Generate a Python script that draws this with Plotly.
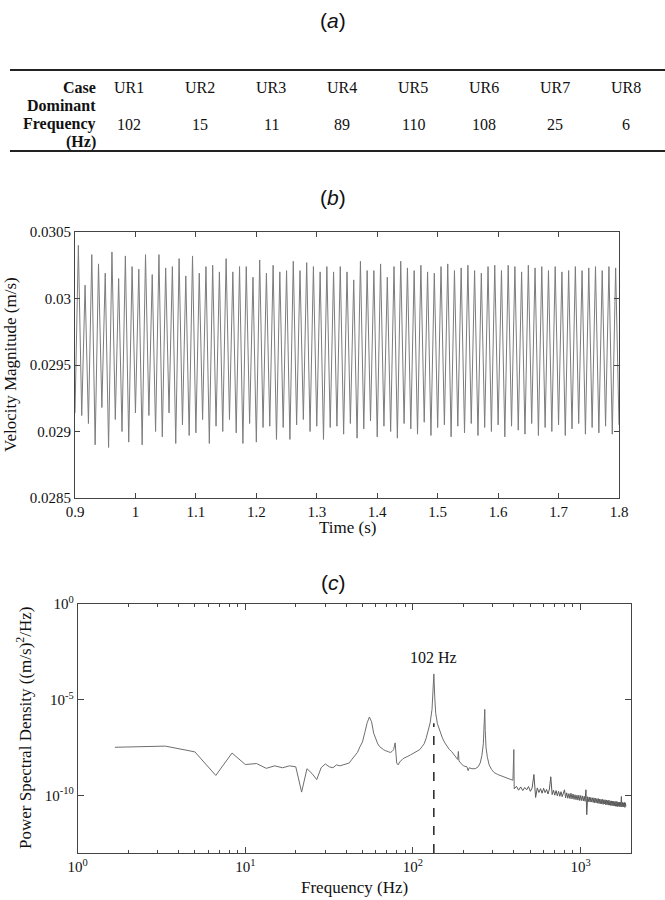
import numpy as np
import plotly.graph_objects as go

# ---- (a) table ----
cases = ["UR1", "UR2", "UR3", "UR4", "UR5", "UR6", "UR7", "UR8"]
dominant_freq = [102, 15, 11, 89, 110, 108, 25, 6]

# ---- (b) velocity magnitude: successive troughs / peaks of the oscillation ----
t_start = 0.9
t_end = 1.8
troughs = [
    0.02914, 0.02912, 0.02906, 0.02890, 0.02918, 0.02888, 0.02909, 0.02900, 0.02892, 0.02914,
    0.02890, 0.02912, 0.02900, 0.02896, 0.02914, 0.02891, 0.02905, 0.02897, 0.02899, 0.02909,
    0.02891, 0.02904, 0.02900, 0.02909, 0.02899, 0.02891, 0.02906, 0.02892, 0.02903, 0.02904,
    0.02894, 0.02903, 0.02894, 0.02905, 0.02909, 0.02900, 0.02904, 0.02894, 0.02903, 0.02904,
    0.02898, 0.02906, 0.02895, 0.02902, 0.02908, 0.02896, 0.02904, 0.02900, 0.02895, 0.02906,
    0.02902, 0.02898, 0.02907, 0.02897, 0.02903, 0.02905, 0.02896, 0.02904, 0.02899, 0.02906,
    0.02897, 0.02903, 0.02900, 0.02905, 0.02896, 0.02904, 0.02901, 0.02898, 0.02906, 0.02897,
    0.02903, 0.02900, 0.02905, 0.02897, 0.02902, 0.02906, 0.02898, 0.02903, 0.02899, 0.02904,
    0.02898, 0.02905,
]
peaks = [
    0.03040, 0.03010, 0.03033, 0.03026, 0.03019, 0.03035, 0.03015, 0.03032, 0.03024, 0.03022,
    0.03033, 0.03018, 0.03033, 0.03023, 0.03024, 0.03030, 0.03017, 0.03032, 0.03019, 0.03024,
    0.03025, 0.03020, 0.03030, 0.03020, 0.03024, 0.03024, 0.03016, 0.03029, 0.03019, 0.03025,
    0.03020, 0.03021, 0.03028, 0.03021, 0.03027, 0.03024, 0.03020, 0.03024, 0.03020,
    0.03024, 0.03020, 0.03014, 0.03028, 0.03021, 0.03021, 0.03026, 0.03016, 0.03024, 0.03028,
    0.03023, 0.03021, 0.03025, 0.03020, 0.03019, 0.03024, 0.03026, 0.03021, 0.03023, 0.03025,
    0.03021, 0.03019, 0.03024, 0.03025, 0.03021, 0.03025, 0.03024, 0.03020, 0.03025, 0.03023,
    0.03024, 0.03021, 0.03024, 0.03020, 0.03021, 0.03024, 0.03021, 0.03023, 0.03024, 0.03021,
    0.03024, 0.03023,
]

# ---- (c) power spectral density (exponents of 10) ----
psd_freq = [
    1.667, 3.333, 5.0, 6.667, 8.333, 10.0, 11.67, 13.33, 15.0, 16.67, 18.33, 20.0, 21.67, 23.33,
    25.0, 26.67, 28.33, 30.0, 31.67, 33.33, 35.0, 36.67, 38.33, 40.0, 41.67, 43.33, 45.0, 46.67,
    48.33, 50.0, 51.67, 53.33, 55.0, 56.67, 58.33, 60.0, 61.67, 63.33, 65.0, 66.67, 68.33, 70.0,
    71.67, 73.33, 75.0, 76.67, 78.33, 80.0, 81.67, 83.33, 85.0, 86.67, 88.33, 90.0, 93.33, 96.67,
    100, 103.3, 106.7, 110, 113.3, 116.7, 120, 123.3, 126.7, 130, 131.7, 133.3, 135, 136.7, 140,
    143.3, 146.7, 150, 155, 160, 165, 170, 175, 180, 185, 186.7, 188.3, 195, 200, 210, 213.3,
    216.7, 225, 235, 245, 252, 258, 263, 266.7, 268.3, 270, 273, 278, 285, 295, 305, 320, 340,
    360, 380, 395, 400, 402,
]
psd_exp = [
    -7.48, -7.42, -7.72, -8.95, -7.78, -8.38, -8.33, -8.58, -8.45, -8.55, -8.45, -8.50, -9.82, -8.60,
    -8.85, -9.17, -8.55, -8.35, -8.50, -8.55, -8.40, -8.45, -8.40, -8.33, -8.30, -8.10, -7.95, -7.75,
    -7.45, -7.20, -6.70, -6.20, -5.90, -6.15, -6.75, -7.05, -7.30, -7.45, -7.55, -7.60, -7.65, -7.70,
    -7.72, -7.75, -7.70, -7.60, -7.25, -8.30, -8.40, -8.25, -8.15, -8.10, -8.05, -8.00, -7.95, -7.88,
    -7.80, -7.75, -7.68, -7.60, -7.45, -7.30, -7.00, -6.60, -6.20, -5.50, -4.70, -3.65, -4.90, -5.70, -6.25,
    -6.55, -6.80, -7.00, -7.25, -7.45, -7.60, -7.70, -7.85, -8.00, -8.12, -7.70, -8.20, -8.35, -8.45, -8.50, -8.70,
    -8.55, -8.60, -8.60, -8.50, -8.30, -7.90, -7.30, -6.20, -5.50, -6.60, -7.50, -8.00, -8.40, -8.65, -8.80, -8.90, -9.00,
    -9.08, -9.15, -9.20, -7.60, -9.65,
]
# dense high-frequency part, evenly spaced from 402 Hz every 12.5 Hz
band_f0 = 402
band_df = 12.5
band_exp = [
    -9.65, -9.52, -9.72, -9.55, -9.74, -9.58, -9.70, -9.53, -9.78, -9.60,
    -8.90, -10.10, -9.60, -9.84, -9.64, -9.88, -9.62, -9.85, -9.68, -9.92,
    -9.66, -9.02, -9.95, -9.72, -9.98, -9.74, -10.02, -9.78, -10.04, -9.80,
    -10.06, -9.82, -9.70, -10.12, -9.86, -10.14, -9.90, -10.16, -9.88, -10.18,
    -9.92, -10.20, -9.96, -10.22, -9.98, -10.24, -9.98, -10.26, -10.00, -10.26,
    -10.02, -10.28, -10.04, -10.30, -9.70, -11.00, -10.06, -10.32, -10.08, -10.34,
    -10.10, -10.34, -10.12, -10.36, -10.12, -10.38, -10.14, -10.38, -10.16, -10.40,
    -10.16, -10.42, -10.18, -10.42, -10.20, -10.44, -10.20, -10.46, -10.22, -10.44,
    -10.22, -10.48, -10.24, -10.48, -10.26, -10.50, -10.24, -10.50, -10.28, -10.52,
    -10.28, -10.52, -10.30, -10.54, -10.30, -10.54, -10.32, -10.56, -10.30, -10.56,
    -10.32, -10.58, -10.34, -10.56, -10.34, -10.58, -10.36, -10.58, -10.05, -10.60,
    -10.36, -10.58, -10.38, -10.60, -10.36, -10.62, -10.38, -10.56,
]
dash_top = 6.0e-7
psd_ymin_exp = -13
psd_xmax = 2000

W, H = 665, 900
serif = "Liberation Serif"
sans = "Liberation Sans"
axis_col = "#444444"


def fx(p):
    return p / W


def fy(p):
    return 1 - p / H


# interleave troughs and peaks into one waveform
wave = []
for i in range(len(troughs)):
    wave.append(troughs[i])
    if i < len(peaks):
        wave.append(peaks[i])
wave_dt = (t_end - t_start) / (len(wave) - 1)

psd = [10 ** e for e in psd_exp]
band = [10 ** e for e in band_exp]
ipk = int(np.argmax(psd))
peak_f = psd_freq[ipk]

fig = go.Figure()

fig.add_trace(go.Scatter(
    y=wave, x0=t_start, dx=wave_dt, mode="lines",
    line=dict(color="#7c7c7c", width=1), xaxis="x", yaxis="y", showlegend=False))

fig.add_trace(go.Scatter(
    x=[peak_f, peak_f], y=[10 ** psd_ymin_exp, dash_top], mode="lines",
    line=dict(color="black", width=1.3, dash="dash"), xaxis="x2", yaxis="y2", showlegend=False))
fig.add_trace(go.Scatter(
    x=psd_freq, y=psd, mode="lines",
    line=dict(color="#6e6e6e", width=1), xaxis="x2", yaxis="y2", showlegend=False))
fig.add_trace(go.Scatter(
    y=band, x0=band_f0, dx=band_df, mode="lines",
    line=dict(color="#5a5a5a", width=1), xaxis="x2", yaxis="y2", showlegend=False))

common = dict(showline=True, linecolor=axis_col, linewidth=1, mirror="allticks", ticks="inside",
              tickcolor=axis_col, showgrid=False, zeroline=False, automargin=False,
              tickfont=dict(family=serif, size=15, color="#111"))

minor_x = [m * 10 ** d for d in range(0, 4) for m in range(2, 10) if m * 10 ** d < psd_xmax]

fig.update_layout(
    width=W, height=H, margin=dict(l=0, r=0, t=0, b=0),
    paper_bgcolor="white", plot_bgcolor="white",
    xaxis=dict(domain=[fx(75), fx(619)], range=[t_start, t_end], anchor="y",
               tickvals=[0.9, 1.0, 1.1, 1.2, 1.3, 1.4, 1.5, 1.6, 1.7, 1.8],
               ticktext=["0.9", "1", "1.1", "1.2", "1.3", "1.4", "1.5", "1.6", "1.7", "1.8"],
               ticklen=5, **common),
    yaxis=dict(domain=[fy(498), fy(232)], range=[0.0285, 0.0305], anchor="x",
               tickvals=[0.0285, 0.029, 0.0295, 0.03, 0.0305],
               ticktext=["0.0285", "0.029", "0.0295", "0.03", "0.0305"],
               ticklen=5, **common),
    xaxis2=dict(domain=[fx(77.7), fx(631)], type="log", range=[0, np.log10(psd_xmax)], anchor="y2",
                tickvals=[1, 10, 100, 1000],
                ticktext=["10<sup>0</sup>", "10<sup>1</sup>", "10<sup>2</sup>", "10<sup>3</sup>"],
                ticklen=6, minor=dict(tickvals=minor_x, ticks="inside", ticklen=3, tickcolor=axis_col),
                **common),
    yaxis2=dict(domain=[fy(853), fy(604)], type="log", range=[psd_ymin_exp, 0], anchor="x2",
                tickvals=[1, 1e-5, 1e-10],
                ticktext=["10<sup>0</sup>", "10<sup>-5</sup>", "10<sup>-10</sup>"],
                ticklen=6, **common),
)

ann = []


def text(x, y, s, size=16, family=serif, xanchor="center", color="#111", angle=0):
    ann.append(dict(x=fx(x), y=fy(y), xref="paper", yref="paper", text=s, showarrow=False,
                    textangle=angle, xanchor=xanchor, yanchor="middle",
                    font=dict(family=family, size=size, color=color)))


# panel labels
text(333, 20, "(<i>a</i>)", size=21, family=sans)
text(333, 197, "(<i>b</i>)", size=21, family=sans)
text(333, 582, "(<i>c</i>)", size=21, family=sans)

# table
col_x = [129 + 71 * i for i in range(len(cases))]
text(98, 88, "<b>Case</b>", xanchor="right")
for cx, c in zip(col_x, cases):
    text(cx, 88, c)
text(98, 106, "<b>Dominant</b>", xanchor="right")
text(98, 124, "<b>Frequency</b>", xanchor="right")
text(98, 142, "<b>(Hz)</b>", xanchor="right")
for cx, v in zip(col_x, dominant_freq):
    text(cx, 124, str(v))

# axis titles
text(347, 527, "Time (s)", size=17)
text(10, 365, "Velocity Magnitude (m/s)", size=17, angle=-90)
text(354, 887, "Frequency (Hz)", size=17)
text(24, 728, "Power Spectral Density ((m/s)<sup>2</sup>/Hz)", size=17, angle=-90)

# peak label
ann.append(dict(x=np.log10(peak_f), y=-2.8, xref="x2", yref="y2", text=f"{dominant_freq[0]} Hz",
                showarrow=False, font=dict(family=serif, size=16, color="#111")))

fig.update_layout(annotations=ann)

shapes = []
for yy in (70, 151):
    shapes.append(dict(type="line", xref="paper", yref="paper", x0=fx(10), x1=fx(665),
                       y0=fy(yy), y1=fy(yy), line=dict(color="#222", width=2)))
fig.update_layout(shapes=shapes)

# drop the browser's default page margin so the figure sits at the window's corner
fig.write_html("out.html", config={"displayModeBar": False},
               post_script="document.body.style.margin='0px';")
